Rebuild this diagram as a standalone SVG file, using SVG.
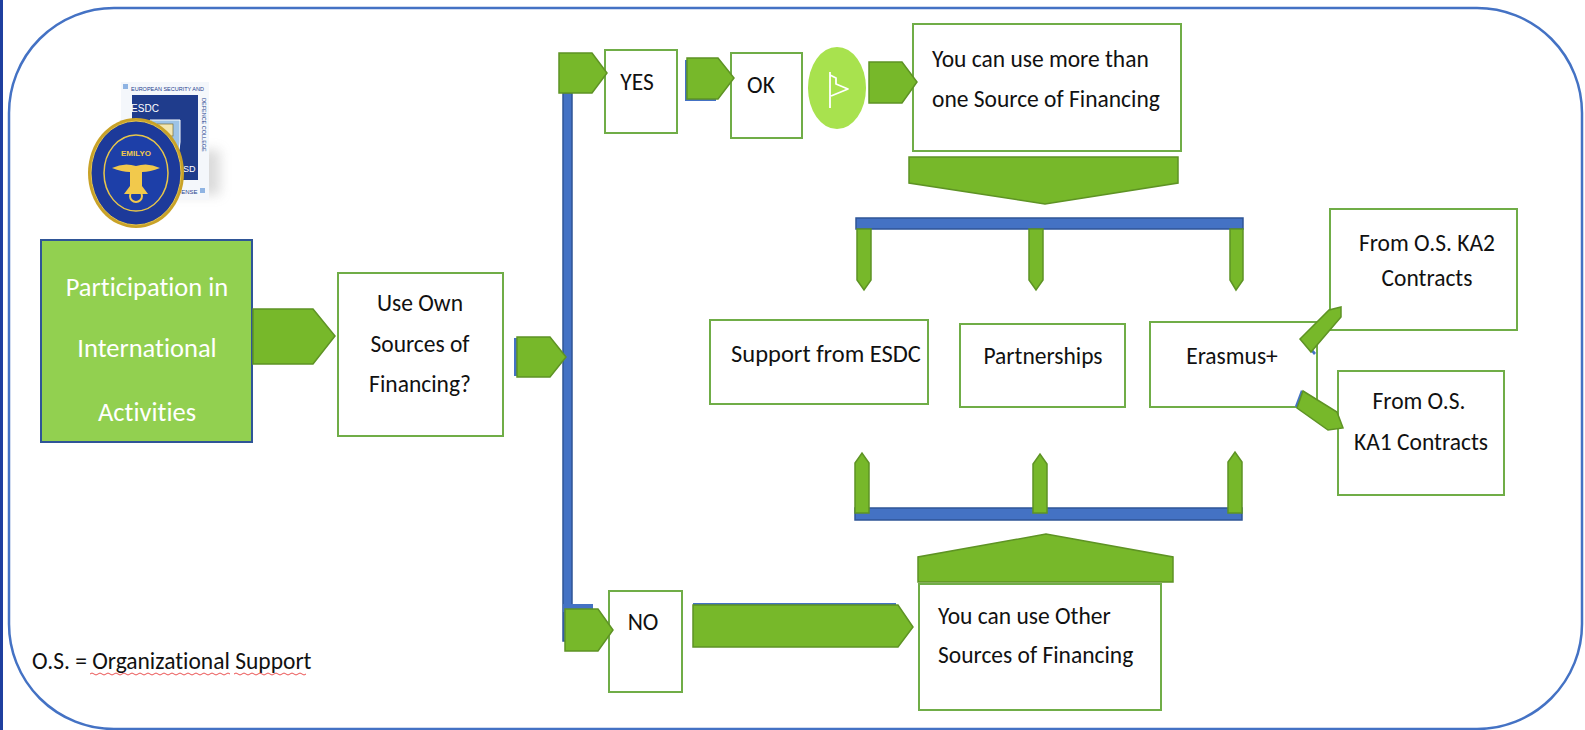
<svg xmlns="http://www.w3.org/2000/svg" width="1585" height="730" viewBox="0 0 1585 730">
<defs>
<style>
.t{font-family:Carlito,Lato,"Liberation Sans",sans-serif;font-size:23.5px;fill:#111;dominant-baseline:central;font-variant-ligatures:none}
.c{text-anchor:middle}
.box{fill:#fff;stroke:#70ad47;stroke-width:2}
.arr{fill:#77b82a;stroke:#5e9324;stroke-width:1.5;stroke-linejoin:miter}
.sh{fill:#4472c4}
.bar{fill:#4472c4;stroke:#2f5597;stroke-width:1.5}
</style>
<filter id="blur" x="-50%" y="-50%" width="200%" height="200%"><feGaussianBlur stdDeviation="6"/></filter>
</defs>
<rect x="0" y="0" width="1585" height="730" fill="#fff"/>
<rect x="0" y="0" width="3" height="730" fill="#1f3f9f"/>
<rect x="9" y="8" width="1573" height="721" rx="105" ry="105" fill="none" stroke="#4472c4" stroke-width="2.5"/>

<g id="logo">
<rect x="150" y="150" width="70" height="45" fill="#999" opacity="0.35" filter="url(#blur)"/>
<rect x="121" y="82" width="88" height="118" fill="#f4f7fb"/>
<rect x="123" y="84" width="5" height="5" fill="#8fb4e3"/>
<text x="131" y="88.5" style="font-family:'Liberation Sans Narrow','Liberation Sans',sans-serif;font-size:5.5px;fill:#24408e;dominant-baseline:central">EUROPEAN SECURITY AND</text>
<rect x="132" y="95" width="66" height="85" fill="#1f3c8c"/>
<path d="M150,120 h30 v22 q0,16 -15,24 q-15,-8 -15,-24 z" fill="#9dc3e6" stroke="#fff" stroke-width="1"/>
<rect x="157" y="124" width="16" height="12" fill="#f2e6b0" stroke="#6a5a20" stroke-width="0.6"/>
<text x="145" y="108" style="font-family:'Liberation Sans',sans-serif;font-size:10px;fill:#fff;dominant-baseline:central;text-anchor:middle">ESDC</text>
<text x="183" y="169" style="font-family:'Liberation Sans',sans-serif;font-size:9px;fill:#fff;dominant-baseline:central;text-anchor:middle">CESD</text>
<text x="204" y="98" transform="rotate(90 204 98)" style="font-family:'Liberation Sans Narrow','Liberation Sans',sans-serif;font-size:5.5px;fill:#24408e;dominant-baseline:central">DEFENCE COLLEGE</text>
<text x="150" y="192" style="font-family:'Liberation Sans Narrow','Liberation Sans',sans-serif;font-size:6px;fill:#24408e;dominant-baseline:central">ET DE DÉFENSE</text>
<rect x="200" y="188" width="5" height="5" fill="#8fb4e3"/>
<ellipse cx="136" cy="173" rx="48" ry="55" fill="#c9a227"/>
<ellipse cx="136" cy="173" rx="45" ry="52" fill="#1d3a9a" stroke="#e8c64a" stroke-width="1"/>
<ellipse cx="136" cy="173" rx="32" ry="38" fill="#1d3fa8" stroke="#e8c64a" stroke-width="1.5"/>
<text x="136" y="153" style="font-family:'Liberation Sans',sans-serif;font-size:8px;font-weight:bold;fill:#f2c94c;dominant-baseline:central;text-anchor:middle">EMILYO</text>
<path d="M112,168 q12,-6 24,-2 q12,-4 24,2 q-10,4 -18,4 v14 l6,8 h-24 l6,-8 v-14 q-8,0 -18,-4 z" fill="#f2c94c"/>
<circle cx="136" cy="196" r="6" fill="none" stroke="#f2c94c" stroke-width="2"/>
</g>

<g id="participation">
<rect x="41" y="240" width="211" height="202" fill="#92d050" stroke="#2f5597" stroke-width="2"/>
<text class="t c" x="147" y="287" style="fill:#fff;font-size:26.5px">Participation in</text>
<text class="t c" x="147" y="348" style="fill:#fff;font-size:26.5px">International</text>
<text class="t c" x="147" y="412" style="fill:#fff;font-size:26.5px">Activities</text>
</g>

<g id="own-sources">
<rect class="box" x="338" y="273" width="165" height="163"/>
<text class="t c" x="420" y="303">Use Own</text>
<text class="t c" x="420" y="344">Sources of</text>
<text class="t c" x="420" y="384">Financing?</text>
</g>

<g id="yes">
<rect class="box" x="605" y="50" width="72" height="83"/>
<text class="t c" x="637" y="82">YES</text>
</g>

<g id="ok">
<rect class="box" x="731" y="53" width="71" height="85"/>
<text class="t c" x="761" y="85">OK</text>
</g>

<g id="flag">
<ellipse cx="837" cy="88" rx="29" ry="41" fill="#a8e24e"/>
<path d="M830,72 V108 M830,75 L836,78 L836,84 L848,89 L831,96" fill="none" stroke="#fff" stroke-width="1.8" stroke-linejoin="round"/>
</g>

<g id="more-sources">
<rect class="box" x="913" y="24" width="268" height="127"/>
<text class="t" x="932" y="59">You can use more than</text>
<text class="t" x="932" y="99">one Source of Financing</text>
</g>

<g id="support-esdc">
<rect class="box" x="710" y="320" width="218" height="84"/>
<text class="t c" x="826" y="354" style="font-size:24.5px">Support from ESDC</text>
</g>

<g id="partnerships">
<rect class="box" x="960" y="324" width="165" height="83"/>
<text class="t c" x="1043" y="356">Partnerships</text>
</g>

<g id="erasmus">
<rect class="box" x="1150" y="322" width="167" height="85"/>
<text class="t c" x="1232" y="356">Erasmus+</text>
</g>

<g id="ka2">
<rect class="box" x="1330" y="209" width="187" height="121"/>
<text class="t c" x="1427" y="243">From O.S. KA2</text>
<text class="t c" x="1427" y="278">Contracts</text>
</g>

<g id="ka1">
<rect class="box" x="1338" y="371" width="166" height="124"/>
<text class="t c" x="1419" y="401">From O.S.</text>
<text class="t c" x="1421" y="442">KA1 Contracts</text>
</g>

<g id="no">
<rect class="box" x="609" y="591" width="73" height="101"/>
<text class="t c" x="643" y="622">NO</text>
</g>

<g id="other-sources">
<rect class="box" x="919" y="584" width="242" height="126"/>
<text class="t" x="938" y="616">You can use Other</text>
<text class="t" x="938" y="655">Sources of Financing</text>
</g>

<g id="connectors">
<rect class="bar" x="563" y="93" width="9" height="548"/>
<rect class="sh" x="563" y="604" width="30" height="8"/>
<rect class="bar" x="856" y="218" width="387" height="11"/>
<rect class="bar" x="855" y="508" width="387" height="12"/>

<polygon class="arr" points="253,309 313,309 335,336 313,364 253,364"/>
<rect class="sh" x="514" y="338" width="4" height="38"/>
<polygon class="arr" points="517,337 550,337 566,357 550,377 517,377"/>
<polygon class="arr" points="559,53 592,53 607,73 592,93 559,93"/>
<polygon class="sh" points="685,60 716,60 716,101 685,101"/>
<polygon class="arr" points="687,58 718,58 734,78 718,99 687,99"/>
<polygon class="arr" points="869,62 902,62 917,82 902,103 869,103"/>
<polygon class="arr" points="565,609 598,609 613,630 598,651 565,651"/>
<polygon class="sh" points="693,603 896,603 896,610 693,610"/>
<polygon class="arr" points="693,605 898,605 913,627 898,647 693,647"/>

<polygon class="arr" points="909,157 1178,157 1178,183 1045,204 909,183"/>
<polygon class="arr" points="857,229 871,229 871,280 864,290 857,280"/>
<polygon class="arr" points="1029,229 1043,229 1043,280 1036,290 1029,280"/>
<polygon class="arr" points="1230,229 1243,229 1243,280 1236,290 1230,280"/>

<polygon class="arr" points="855,513 855,463 862,453 869,463 869,513"/>
<polygon class="arr" points="1033,513 1033,464 1040,454 1047,464 1047,513"/>
<polygon class="arr" points="1228,513 1228,462 1235,452 1242,462 1242,513"/>
<polygon class="arr" points="918,582 918,557 1046,534 1173,557 1173,582"/>

<polygon class="sh" points="1302,341 1314,355 1316,353 1304,339"/>
<polygon class="arr" points="1300,339 1329,310 1341,307 1341,317 1311,352"/>
<polygon class="sh" points="1301,390 1295,406 1297,408 1303,392"/>
<polygon class="arr" points="1303,391 1337,412 1343,428 1328,430 1297,408"/>
</g>

<g id="legend">
<text class="t" x="32" y="661">O.S. = Organizational Support</text>
<path d="M90,674 q2,-2 4,0 t4,0 t4,0 t4,0 t4,0 t4,0 t4,0 t4,0 t4,0 t4,0 t4,0 t4,0 t4,0 t4,0 t4,0 t4,0 t4,0 t4,0 t4,0 t4,0 t4,0 t4,0 t4,0 t4,0 t4,0 t4,0 t4,0 t4,0 t4,0 t4,0 t4,0 t4,0 t4,0 t4,0 t4,0 M234,674 q2,-2 4,0 t4,0 t4,0 t4,0 t4,0 t4,0 t4,0 t4,0 t4,0 t4,0 t4,0 t4,0 t4,0 t4,0 t4,0 t4,0 t4,0 t4,0" fill="none" stroke="#e84040" stroke-width="0.9"/>
</g>
</svg>
